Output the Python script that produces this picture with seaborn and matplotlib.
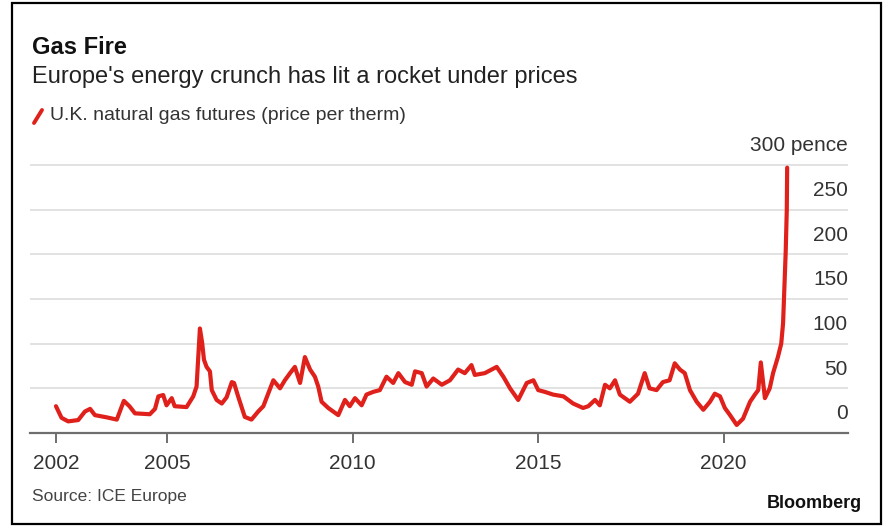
import pandas as pd
import matplotlib.pyplot as plt
import matplotlib.transforms as mtransforms
from matplotlib.lines import Line2D
from matplotlib.patches import Rectangle
import seaborn as sns

# ==== Data ====
years = [
    2002.00, 2002.15, 2002.33, 2002.60, 2002.78, 2002.92, 2003.05, 2003.37, 2003.64, 2003.83,
    2003.98, 2004.13, 2004.53, 2004.67, 2004.76, 2004.89, 2004.98, 2005.12, 2005.20, 2005.52,
    2005.70, 2005.79, 2005.88, 2005.94, 2005.99, 2006.06, 2006.15, 2006.20, 2006.33, 2006.47,
    2006.60, 2006.74, 2006.80, 2006.91, 2007.09, 2007.27, 2007.45, 2007.59, 2007.72, 2007.86,
    2008.04, 2008.17, 2008.31, 2008.44, 2008.58, 2008.71, 2008.85, 2008.98, 2009.07, 2009.16,
    2009.34, 2009.61, 2009.79, 2009.92, 2010.06, 2010.24, 2010.37, 2010.55, 2010.73, 2010.91,
    2011.09, 2011.23, 2011.41, 2011.59, 2011.68, 2011.86, 2011.99, 2012.17, 2012.40, 2012.62,
    2012.84, 2013.02, 2013.20, 2013.29, 2013.56, 2013.88, 2014.06, 2014.24, 2014.46, 2014.69,
    2014.87, 2015.00, 2015.18, 2015.40, 2015.68, 2015.94, 2016.21, 2016.35, 2016.53, 2016.66,
    2016.80, 2016.93, 2017.07, 2017.20, 2017.47, 2017.69, 2017.87, 2018.00, 2018.19, 2018.36,
    2018.54, 2018.68, 2018.82, 2018.95, 2019.09, 2019.27, 2019.45, 2019.63, 2019.76, 2019.90,
    2020.03, 2020.17, 2020.35, 2020.52, 2020.71, 2020.84, 2020.93, 2021.00, 2021.11, 2021.24,
    2021.33, 2021.46, 2021.55, 2021.60, 2021.67, 2021.70, 2021.71,
]
price = [
    30, 17, 13, 14.5, 24, 27, 20, 17.5, 15, 36,
    30, 22, 21, 27, 41, 42.5, 31, 39, 30, 29,
    41, 52, 117, 101, 82, 74, 69, 48, 37, 33,
    40, 57, 56, 41, 18, 15, 24, 30, 44, 59,
    50, 59, 67, 74, 56, 85, 71, 63, 52, 35,
    28, 20, 37, 30, 39, 31, 43, 46, 48, 63,
    56, 67, 57, 54, 69, 67, 52, 61, 54, 59,
    71, 67, 76, 65, 67, 74, 63, 50, 37, 56,
    59, 48, 46, 43, 41, 33, 28, 30, 37, 31,
    54, 50, 59, 43, 35, 44, 67, 50, 48, 57,
    59, 78, 71, 67, 48, 35, 26, 35, 44, 41,
    28, 20, 9, 16, 35, 43, 48, 79, 39, 50,
    67, 85, 100, 123, 202, 250, 297,
]
x_ticks = [2002, 2005, 2010, 2015, 2020]
y_ticks = [0, 50, 100, 150, 200, 250, 300]
y_labels = ["0", "50", "100", "150", "200", "250", "300 pence"]

df = pd.DataFrame({"year": years, "price": price})

# ==== Style ====
sns.set_style("white")
plt.rcParams["font.family"] = ["Liberation Sans", "DejaVu Sans"]

RED = "#e0201b"
GRID = "#dddddd"
TEXT = "#333333"

W, H = 887, 528
fig = plt.figure(figsize=(W / 100, H / 100), dpi=100)
fig.patch.set_facecolor("white")

# axes placed in pixel terms
left, right, bottom, top = 30, 848, 433, 163.2
ax = fig.add_axes([left / W, 1 - bottom / H, (right - left) / W, (bottom - top) / H])

sns.lineplot(data=df, x="year", y="price", ax=ax, color=RED, linewidth=3.0)

ax.set_xlim(2001.3, 2023.35)
ax.set_ylim(0, 302)
ax.set_xlabel("")
ax.set_ylabel("")

# gridlines
for v in y_ticks[1:]:
    ax.axhline(v, color=GRID, linewidth=1.2, zorder=0)

for s in ["top", "right", "left"]:
    ax.spines[s].set_visible(False)
ax.spines["bottom"].set_color("#6e6e6e")
ax.spines["bottom"].set_linewidth(1.6)

ax.set_xticks(x_ticks)
ax.set_xticklabels([str(t) for t in x_ticks])
ax.tick_params(axis="x", bottom=True, direction="out", length=7, width=1.4,
               color="#6e6e6e", labelsize=15, labelcolor=TEXT, pad=8)
ax.set_yticks([])

# y labels sit above their gridline, right-aligned
trans = mtransforms.blended_transform_factory(ax.transAxes, ax.transData)
offset = mtransforms.offset_copy(trans, fig=fig, x=0, y=7, units="points")
for v, lab in zip(y_ticks, y_labels):
    ax.text(1.0, v, lab, transform=offset, ha="right", va="bottom",
            fontsize=15, color=TEXT)

# ==== Titles, legend, source ====
fig.text(32 / W, 1 - 47 / H, "Gas Fire", fontsize=17, fontweight="bold",
         color="#111111", va="center")
fig.text(32 / W, 1 - 77 / H, "Europe's energy crunch has lit a rocket under prices",
         fontsize=17, color="#222222", va="center")
fig.add_artist(Line2D([34 / W, 42 / W], [1 - 123 / H, 1 - 110 / H],
                      color=RED, linewidth=2.8, transform=fig.transFigure))
fig.text(50 / W, 1 - 116 / H, "U.K. natural gas futures (price per therm)",
         fontsize=14, color=TEXT, va="center")
fig.text(32 / W, 1 - 496 / H, "Source: ICE Europe", fontsize=12.5, color="#444444",
         va="center")
fig.text(862 / W, 1 - 503 / H, "Bloomberg", fontsize=13, fontweight="bold",
         color="#111111", va="center", ha="right")

# outer frame
fig.add_artist(Rectangle((12 / W, 1 - 524 / H), (881 - 12) / W, (524 - 3) / H,
                         transform=fig.transFigure, fill=False,
                         edgecolor="black", linewidth=1.6))

plt.savefig("out.png", dpi=100)
